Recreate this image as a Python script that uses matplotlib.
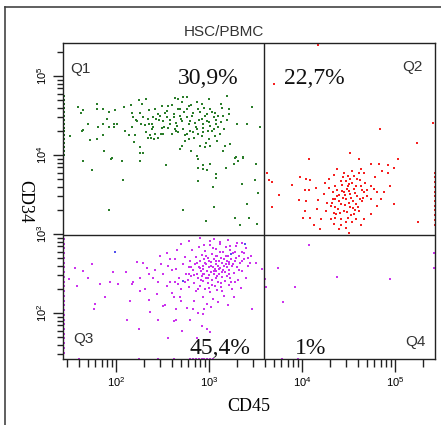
import numpy as np
import matplotlib
matplotlib.use("Agg")
import matplotlib.pyplot as plt
from matplotlib.ticker import FixedLocator, LogLocator, FuncFormatter, NullFormatter
from matplotlib.lines import Line2D

plt.rcParams['font.family'] = ['Liberation Sans', 'DejaVu Sans']
plt.rcParams['mathtext.fontset'] = 'custom'
plt.rcParams['mathtext.rm'] = 'Liberation Sans'

# values are log10(CD45), log10(CD34)
q1_points = [
    (1.65, 3.93), (1.95, 3.95), (2.06, 3.93), (2.26, 3.93), (1.74, 3.81), (2.54, 3.87),
    (2.08, 3.68), (1.92, 3.31), (2.72, 3.31), (2.88, 3.95), (2.88, 3.84), (2.93, 3.83),
    (2.94, 3.87), (2.98, 3.81), (3.01, 3.89), (3.07, 3.76), (3.07, 3.71), (2.88, 3.67),
    (3.04, 3.60), (3.18, 3.84), (3.27, 3.89), (3.28, 3.97), (3.31, 3.93), (3.37, 3.97),
    (3.50, 3.89), (3.35, 3.64), (3.49, 3.68), (3.53, 3.52), (3.41, 3.38), (3.05, 3.35),
    (3.28, 3.21), (3.43, 3.21), (2.97, 3.17), (3.33, 3.11), (3.52, 3.13),
    (1.59, 4.61), (1.65, 4.57), (1.62, 4.53), (1.80, 4.65), (1.80, 4.59), (1.86, 4.59),
    (1.92, 4.55), (1.99, 4.57), (2.09, 4.61), (2.16, 4.63), (2.25, 4.70), (2.32, 4.71),
    (2.28, 4.65), (2.35, 4.57), (2.42, 4.59), (2.26, 4.53), (2.17, 4.53), (2.18, 4.48),
    (1.90, 4.46), (1.70, 4.40), (1.65, 4.32), (1.63, 4.30), (1.50, 4.24), (1.81, 4.36),
    (1.86, 4.40), (1.92, 4.36), (1.98, 4.40), (2.01, 4.40), (1.98, 4.36), (1.72, 4.19),
    (1.80, 4.20), (1.86, 4.26), (2.10, 4.30), (2.14, 4.26), (2.20, 4.26), (2.19, 4.17),
    (2.26, 4.10), (2.26, 4.03), (2.29, 4.03), (1.87, 4.05), (1.96, 3.96), (2.17, 4.36),
    (2.23, 4.43), (2.27, 4.40), (2.29, 4.48), (2.34, 4.46), (2.40, 4.36), (2.42, 4.27),
    (2.32, 4.29), (2.37, 4.26), (2.47, 4.50), (2.46, 4.44), (2.43, 4.46), (2.48, 4.27),
    (2.45, 4.22), (2.38, 4.22), (2.41, 4.20), (2.34, 4.22), (2.36, 4.40), (2.39, 4.40),
    (2.49, 4.35), (2.39, 4.33),
    (2.63, 4.73), (2.67, 4.71), (2.72, 4.74), (2.76, 4.74), (2.71, 4.67), (2.60, 4.64),
    (2.56, 4.62), (2.55, 4.56), (2.49, 4.62), (2.67, 4.58), (2.76, 4.59), (2.81, 4.63),
    (2.87, 4.67), (2.92, 4.65), (3.00, 4.71), (3.13, 4.65), (3.19, 4.75), (3.14, 4.60),
    (3.21, 4.59), (3.01, 4.58), (3.06, 4.54), (2.98, 4.52), (2.90, 4.55), (2.83, 4.53),
    (2.76, 4.48), (2.69, 4.50), (2.62, 4.48), (2.55, 4.48), (2.51, 4.43), (2.58, 4.40),
    (2.65, 4.41), (2.71, 4.43), (2.80, 4.43), (2.85, 4.41), (2.92, 4.46), (2.98, 4.43),
    (3.05, 4.48), (3.10, 4.50), (3.15, 4.50), (3.21, 4.52), (3.08, 4.39), (3.01, 4.37),
    (2.94, 4.35), (2.87, 4.33), (2.80, 4.31), (2.72, 4.33), (2.63, 4.33), (2.56, 4.35),
    (2.51, 4.27), (2.60, 4.27), (2.67, 4.29), (2.76, 4.27), (2.83, 4.29), (2.88, 4.27),
    (2.94, 4.29), (2.99, 4.31), (3.05, 4.33), (3.12, 4.27), (3.06, 4.24), (2.74, 4.18),
    (2.78, 4.20), (2.71, 4.12), (2.69, 4.08), (2.90, 4.12), (2.96, 4.10), (3.01, 4.12),
    (3.17, 4.12), (3.23, 4.14), (3.15, 4.05), (3.30, 4.40), (3.41, 4.40), (3.46, 4.61),
    (3.55, 4.36), (3.29, 3.98), (3.37, 3.98), (2.87, 3.99), (2.81, 4.05), (2.53, 4.54),
    (2.58, 4.45), (2.62, 4.52), (2.66, 4.37), (2.70, 4.46), (2.73, 4.55), (2.78, 4.40),
    (2.82, 4.49), (2.86, 4.36), (2.89, 4.45), (2.93, 4.39), (2.96, 4.50), (3.00, 4.42),
    (3.03, 4.30), (3.07, 4.45), (3.10, 4.36), (3.13, 4.42), (3.16, 4.33), (3.19, 4.45),
    (2.64, 4.30), (2.74, 4.26), (2.84, 4.22), (2.92, 4.24), (3.00, 4.20), (2.97, 4.15),
    (3.09, 4.18), (2.69, 4.58), (2.79, 4.62), (2.88, 4.58), (2.95, 4.60), (3.03, 4.55),
    (2.52, 4.36), (2.45, 4.52), (2.40, 4.48), (2.31, 4.38), (2.21, 4.45),
]
q1_edge_cd34 = [4.00, 4.05, 4.10, 4.15, 4.20, 4.25, 4.30, 4.35, 4.40, 4.45,
                4.50, 4.55, 4.60, 4.65, 4.70, 4.75]

q2_points = [
    (3.62, 3.77), (3.65, 3.68), (3.68, 3.66), (3.75, 3.50), (3.68, 3.35), (3.89, 3.62),
    (3.98, 3.73), (3.97, 3.43), (4.04, 3.70), (4.09, 3.68), (4.03, 3.56), (4.08, 3.56),
    (4.04, 3.42), (4.03, 3.29), (4.01, 3.21), (4.09, 3.21), (4.07, 3.95), (4.15, 3.59),
    (4.17, 3.43), (4.16, 3.32), (4.20, 3.19), (4.13, 3.11), (4.19, 3.07), (4.25, 3.65),
    (4.29, 3.70), (4.34, 3.75), (4.38, 3.82), (4.45, 3.77), (4.52, 4.03), (4.54, 3.80),
    (4.61, 3.95), (4.63, 3.82), (4.67, 3.78), (4.74, 3.89), (4.83, 3.89), (4.92, 3.87),
    (5.03, 3.95), (4.99, 3.84), (4.86, 3.80), (4.92, 3.77), (4.78, 3.72), (4.95, 3.61),
    (4.88, 3.53), (4.99, 3.38), (5.24, 4.15), (5.25, 3.15), (4.24, 3.51), (4.27, 3.40),
    (4.26, 3.29), (4.31, 3.19), (4.34, 3.13), (4.40, 3.06), (4.47, 3.08), (4.51, 3.01),
    (4.54, 3.15), (4.63, 3.11), (4.74, 3.25), (4.81, 3.36), (4.85, 3.44), (4.74, 3.44),
    (4.77, 3.57), (4.68, 3.65), (4.59, 3.70), (4.49, 3.74), (4.42, 3.67), (4.36, 3.61),
    (4.33, 3.53), (4.38, 3.48), (4.43, 3.55), (4.49, 3.61), (4.54, 3.65), (4.63, 3.61),
    (4.67, 3.53), (4.59, 3.48), (4.52, 3.51), (4.47, 3.44), (4.42, 3.38), (4.36, 3.34),
    (4.31, 3.36), (4.45, 3.29), (4.52, 3.34), (4.58, 3.38), (4.65, 3.42), (4.70, 3.48),
    (4.56, 3.25), (4.61, 3.29), (4.49, 3.21), (4.42, 3.19), (4.37, 3.25), (4.67, 3.19),
    (4.45, 3.53), (4.51, 3.40), (4.40, 3.42), (4.56, 3.57), (4.74, 3.61), (4.81, 3.53),
    (4.29, 3.59), (4.33, 3.44), (4.34, 3.27), (4.42, 3.11), (4.58, 3.19), (4.36, 3.21),
    (4.47, 3.67), (4.61, 3.78), (4.56, 3.74),
    (4.40, 3.50), (4.44, 3.46), (4.48, 3.57), (4.53, 3.46), (4.57, 3.52), (4.62, 3.45),
    (4.50, 3.63), (4.46, 3.37), (4.55, 3.33), (4.39, 3.32), (4.60, 3.35), (4.64, 3.56),
    (4.35, 3.45), (4.43, 3.62), (4.52, 3.70), (4.58, 3.61), (4.48, 3.28), (4.53, 3.24),
    (4.41, 3.27), (4.66, 3.46), (4.70, 3.56), (4.32, 3.40), (4.46, 3.50), (4.50, 3.55),
    (4.55, 3.42), (4.38, 3.56), (4.62, 3.68), (4.44, 3.72), (4.57, 3.30), (4.47, 3.16),
    (3.70, 4.90), (4.17, 5.40), (4.84, 4.33), (5.41, 4.41),
]
q2_edge_cd34 = [3.78, 3.72, 3.66, 3.60, 3.54, 3.48, 3.42, 3.36, 3.30, 3.24, 3.18, 3.12]

q3_points = [
    (1.56, 2.57), (1.49, 2.43), (1.58, 2.35), (1.65, 2.54), (1.74, 2.62), (1.70, 2.45),
    (1.77, 2.11), (1.76, 2.05), (1.83, 2.37), (1.88, 2.20), (1.94, 2.40), (1.97, 2.52),
    (2.02, 2.37), (2.11, 2.52), (2.12, 1.92), (2.17, 2.37), (2.18, 2.39), (2.15, 2.16),
    (2.23, 2.65), (2.26, 2.45), (2.26, 2.28), (2.25, 1.80), (2.29, 2.63), (2.33, 2.57),
    (2.31, 2.30), (2.35, 2.17), (2.37, 2.01), (2.40, 2.45), (2.44, 2.24), (2.47, 2.73),
    (2.45, 1.92), (2.51, 2.09), (2.55, 2.76), (2.56, 2.60), (2.56, 1.69), (2.58, 2.39),
    (2.60, 2.26), (2.62, 1.90), (2.63, 2.68), (2.65, 2.56), (2.65, 2.05), (2.67, 2.37),
    (2.69, 2.20), (2.71, 1.78),
    (2.72, 2.62), (2.75, 2.50), (2.74, 2.71), (2.77, 2.42), (2.78, 2.58), (2.79, 2.33),
    (2.80, 2.66), (2.81, 2.47), (2.82, 2.80), (2.83, 2.55), (2.84, 2.38), (2.85, 2.62),
    (2.86, 2.28), (2.86, 2.71), (2.87, 2.50), (2.88, 2.44), (2.89, 2.59), (2.89, 2.84),
    (2.90, 2.35), (2.90, 2.66), (2.91, 2.53), (2.92, 2.47), (2.92, 2.74), (2.93, 2.20),
    (2.93, 2.60), (2.94, 2.41), (2.94, 2.56), (2.95, 2.68), (2.95, 2.50), (2.96, 2.31),
    (2.96, 2.79), (2.97, 2.45), (2.97, 2.62), (2.98, 2.54), (2.98, 2.12), (2.99, 2.70),
    (2.99, 2.38), (3.00, 2.58), (3.00, 2.48), (3.01, 2.86), (3.01, 2.27), (3.02, 2.65),
    (3.02, 2.52), (3.03, 2.42), (3.03, 2.75), (3.04, 2.59), (3.04, 2.18), (3.05, 2.49),
    (3.05, 2.68), (3.06, 2.35), (3.06, 2.56), (3.07, 2.81), (3.07, 2.62), (3.08, 2.45),
    (3.08, 2.53), (3.09, 2.72), (3.09, 2.29), (3.10, 2.60), (3.10, 2.40), (3.11, 2.66),
    (3.11, 2.50), (3.12, 2.90), (3.12, 2.57), (3.13, 2.33), (3.13, 2.70), (3.14, 2.46),
    (3.14, 2.63), (3.15, 2.55), (3.15, 2.78), (3.16, 2.22), (3.16, 2.68), (3.17, 2.52),
    (3.17, 2.41), (3.18, 2.62), (3.18, 2.84), (3.19, 2.58), (3.19, 2.47), (3.20, 2.73),
    (3.21, 2.36), (3.21, 2.65), (3.22, 2.55), (3.23, 2.80), (3.23, 2.44), (3.24, 2.69),
    (3.25, 2.60), (3.25, 2.30), (3.26, 2.76), (3.27, 2.51), (3.28, 2.66), (3.29, 2.85),
    (3.30, 2.58), (3.31, 2.42), (3.32, 2.72), (3.33, 2.63), (3.35, 2.78), (3.36, 2.53),
    (3.38, 2.68), (3.40, 2.82), (3.42, 2.60), (3.45, 2.73),
    (2.70, 2.15), (2.76, 2.06), (2.84, 2.15), (2.88, 2.00), (2.95, 2.05), (3.02, 2.08),
    (3.10, 2.14), (3.20, 2.10), (3.27, 2.20), (3.34, 2.32), (3.40, 2.45), (2.68, 2.45),
    (2.66, 2.80), (2.70, 2.88), (2.78, 2.92), (2.90, 2.95), (3.05, 2.94), (3.20, 2.93),
    (3.30, 2.89), (3.35, 2.89), (3.44, 2.64), (3.51, 2.64), (3.57, 2.56), (3.46, 2.05),
    (3.28, 2.39), (3.01, 2.92), (3.12, 2.87), (3.23, 2.85), (2.94, 1.99), (2.98, 1.80),
    (3.01, 1.76), (2.92, 1.84), (2.87, 1.69), (2.65, 1.92), (2.80, 1.92), (2.83, 2.05),
    (2.50, 2.50), (2.55, 2.35), (2.60, 2.55), (2.48, 2.62), (2.62, 2.20), (2.53, 2.10),
    (2.42, 2.55), (2.45, 2.40), (2.58, 2.68), (2.35, 2.50), (2.63, 2.40), (2.70, 2.30),
    (2.90, 2.57), (2.93, 2.50), (2.96, 2.64), (2.99, 2.44), (3.02, 2.60), (3.05, 2.53),
    (3.08, 2.66), (3.11, 2.56), (3.14, 2.52), (3.16, 2.60), (3.19, 2.66), (3.22, 2.50),
    (3.26, 2.62), (3.29, 2.70), (3.32, 2.55), (2.87, 2.63), (2.84, 2.48), (2.81, 2.58),
    (2.97, 2.72), (3.03, 2.36), (3.13, 2.38), (3.24, 2.40), (3.07, 2.72), (3.18, 2.72),
    (3.28, 2.78), (3.36, 2.66), (3.38, 2.76), (3.42, 2.70), (3.00, 2.66), (3.09, 2.47),
    (2.91, 2.42), (2.78, 2.50), (2.74, 2.40), (2.88, 2.30), (3.00, 2.32), (3.14, 2.28),
    (3.22, 2.62), (3.12, 2.77), (3.04, 2.82), (2.95, 2.86),
]
q3_edge_cd34 = [1.50, 1.56, 1.62, 1.68, 1.74, 1.80, 1.86, 1.92, 1.98, 2.04, 2.10, 2.16,
                2.22, 2.28, 2.34, 2.40, 2.46, 2.52, 2.58, 2.64, 2.70, 2.76, 2.82, 2.88, 2.94]
q3_floor_cd45 = [1.60, 2.25, 2.45, 2.62, 2.80, 2.83, 2.86, 2.89, 2.92, 2.95, 2.98,
                 3.01, 3.04, 3.78, 3.96]
blue_points = [(1.99, 2.78), (2.72, 2.41), (3.24, 2.75), (3.39, 2.87)]

q4_points = [
    (4.07, 2.86), (3.74, 2.57), (3.60, 2.43), (3.61, 2.33), (3.92, 2.33), (3.80, 2.14),
    (4.38, 2.46), (4.95, 2.43), (5.42, 2.76), (5.42, 2.57),
]

quadrant_cd45 = 3.59
quadrant_cd34 = 2.99
quadrant_pct = ["30,9%", "22,7%", "45,4%", "1%"]
quadrant_names = ["Q1", "Q2", "Q3", "Q4"]

x_lo, x_hi = 1.43, 5.43
y_lo, y_hi = 1.42, 5.42

green = '#2a7d2a'
red = '#f52020'
magenta = '#cc33ee'

fig = plt.figure(figsize=(4.41, 4.25), dpi=100)
ax = fig.add_axes([63 / 441, 1 - 359 / 425, 372 / 441, 316 / 425])


def dots(pts, color):
    pts = np.array(pts)
    ax.scatter(10 ** pts[:, 0], 10 ** pts[:, 1], s=2.6, c=color, marker='s',
               linewidths=0, zorder=2)


dots(q1_points, green)
dots([(1.436, v) for v in q1_edge_cd34], '#1f6e1f')
dots(q2_points, red)
dots([(5.425, v) for v in q2_edge_cd34], red)
dots(q3_points, magenta)
dots([(1.436, v) for v in q3_edge_cd34], magenta)
dots([(v, 1.426) for v in q3_floor_cd45], magenta)
dots(blue_points, '#5050ee')
dots(q4_points, magenta)

ax.axvline(10 ** quadrant_cd45, color='#222222', lw=1.0, zorder=3)
ax.axhline(10 ** quadrant_cd34, color='#222222', lw=1.0, zorder=3)

ax.set_xscale('log')
ax.set_yscale('log')
ax.set_xlim(10 ** x_lo, 10 ** x_hi)
ax.set_ylim(10 ** y_lo, 10 ** y_hi)

fmt = FuncFormatter(lambda v, p: r'$\mathregular{10^{%d}}$' % round(np.log10(v)))
for axis in (ax.xaxis, ax.yaxis):
    axis.set_major_locator(FixedLocator([1e2, 1e3, 1e4, 1e5]))
    axis.set_minor_locator(LogLocator(base=10, subs=np.arange(2, 10)))
    axis.set_major_formatter(fmt)
    axis.set_minor_formatter(NullFormatter())

ax.tick_params(axis='x', which='major', direction='out', length=9, width=1,
               color='#222222', labelsize=8, pad=3)
ax.tick_params(axis='x', which='minor', direction='out', length=6, width=1,
               color='#222222')
ax.tick_params(axis='y', which='major', direction='out', length=7, width=1,
               color='#222222', labelsize=8, pad=3, labelrotation=90)
ax.tick_params(axis='y', which='minor', direction='out', length=4, width=1,
               color='#222222')
for lab in ax.get_yticklabels():
    lab.set_va('center')

for sp in ax.spines.values():
    sp.set_color('#222222')
    sp.set_linewidth(1.0)

serif = ['Liberation Serif', 'DejaVu Serif']
ax.set_xlabel('CD45', family=serif, fontsize=13, labelpad=6)
ax.set_ylabel('CD34', family=serif, fontsize=13, rotation=-90, labelpad=14)

fig.text(224 / 441, 1 - 32 / 425, 'HSC/PBMC', ha='center', va='center',
         fontsize=11, color='#333333')

# quadrant annotations
pct_pos = [(208, 78), (314, 78), (220, 348), (311, 348)]
for (px, py), txt in zip(pct_pos, quadrant_pct):
    fig.text(px / 441, 1 - py / 425, txt, ha='center', va='center',
             family=serif, fontsize=17, color='#111111')
name_pos = [(80, 69), (412, 67), (83, 339), (415, 342)]
for (px, py), txt in zip(name_pos, quadrant_names):
    fig.text(px / 441, 1 - py / 425, txt, ha='center', va='center',
             fontsize=11, color='#333333')

# outer frame
fig.add_artist(Line2D([5 / 441, 5 / 441], [0, 1 - 7 / 425], color='#444444', lw=1.2))
fig.add_artist(Line2D([5 / 441, 1], [1 - 7 / 425, 1 - 7 / 425], color='#444444', lw=1.2))

fig.savefig('out.png', dpi=100)
